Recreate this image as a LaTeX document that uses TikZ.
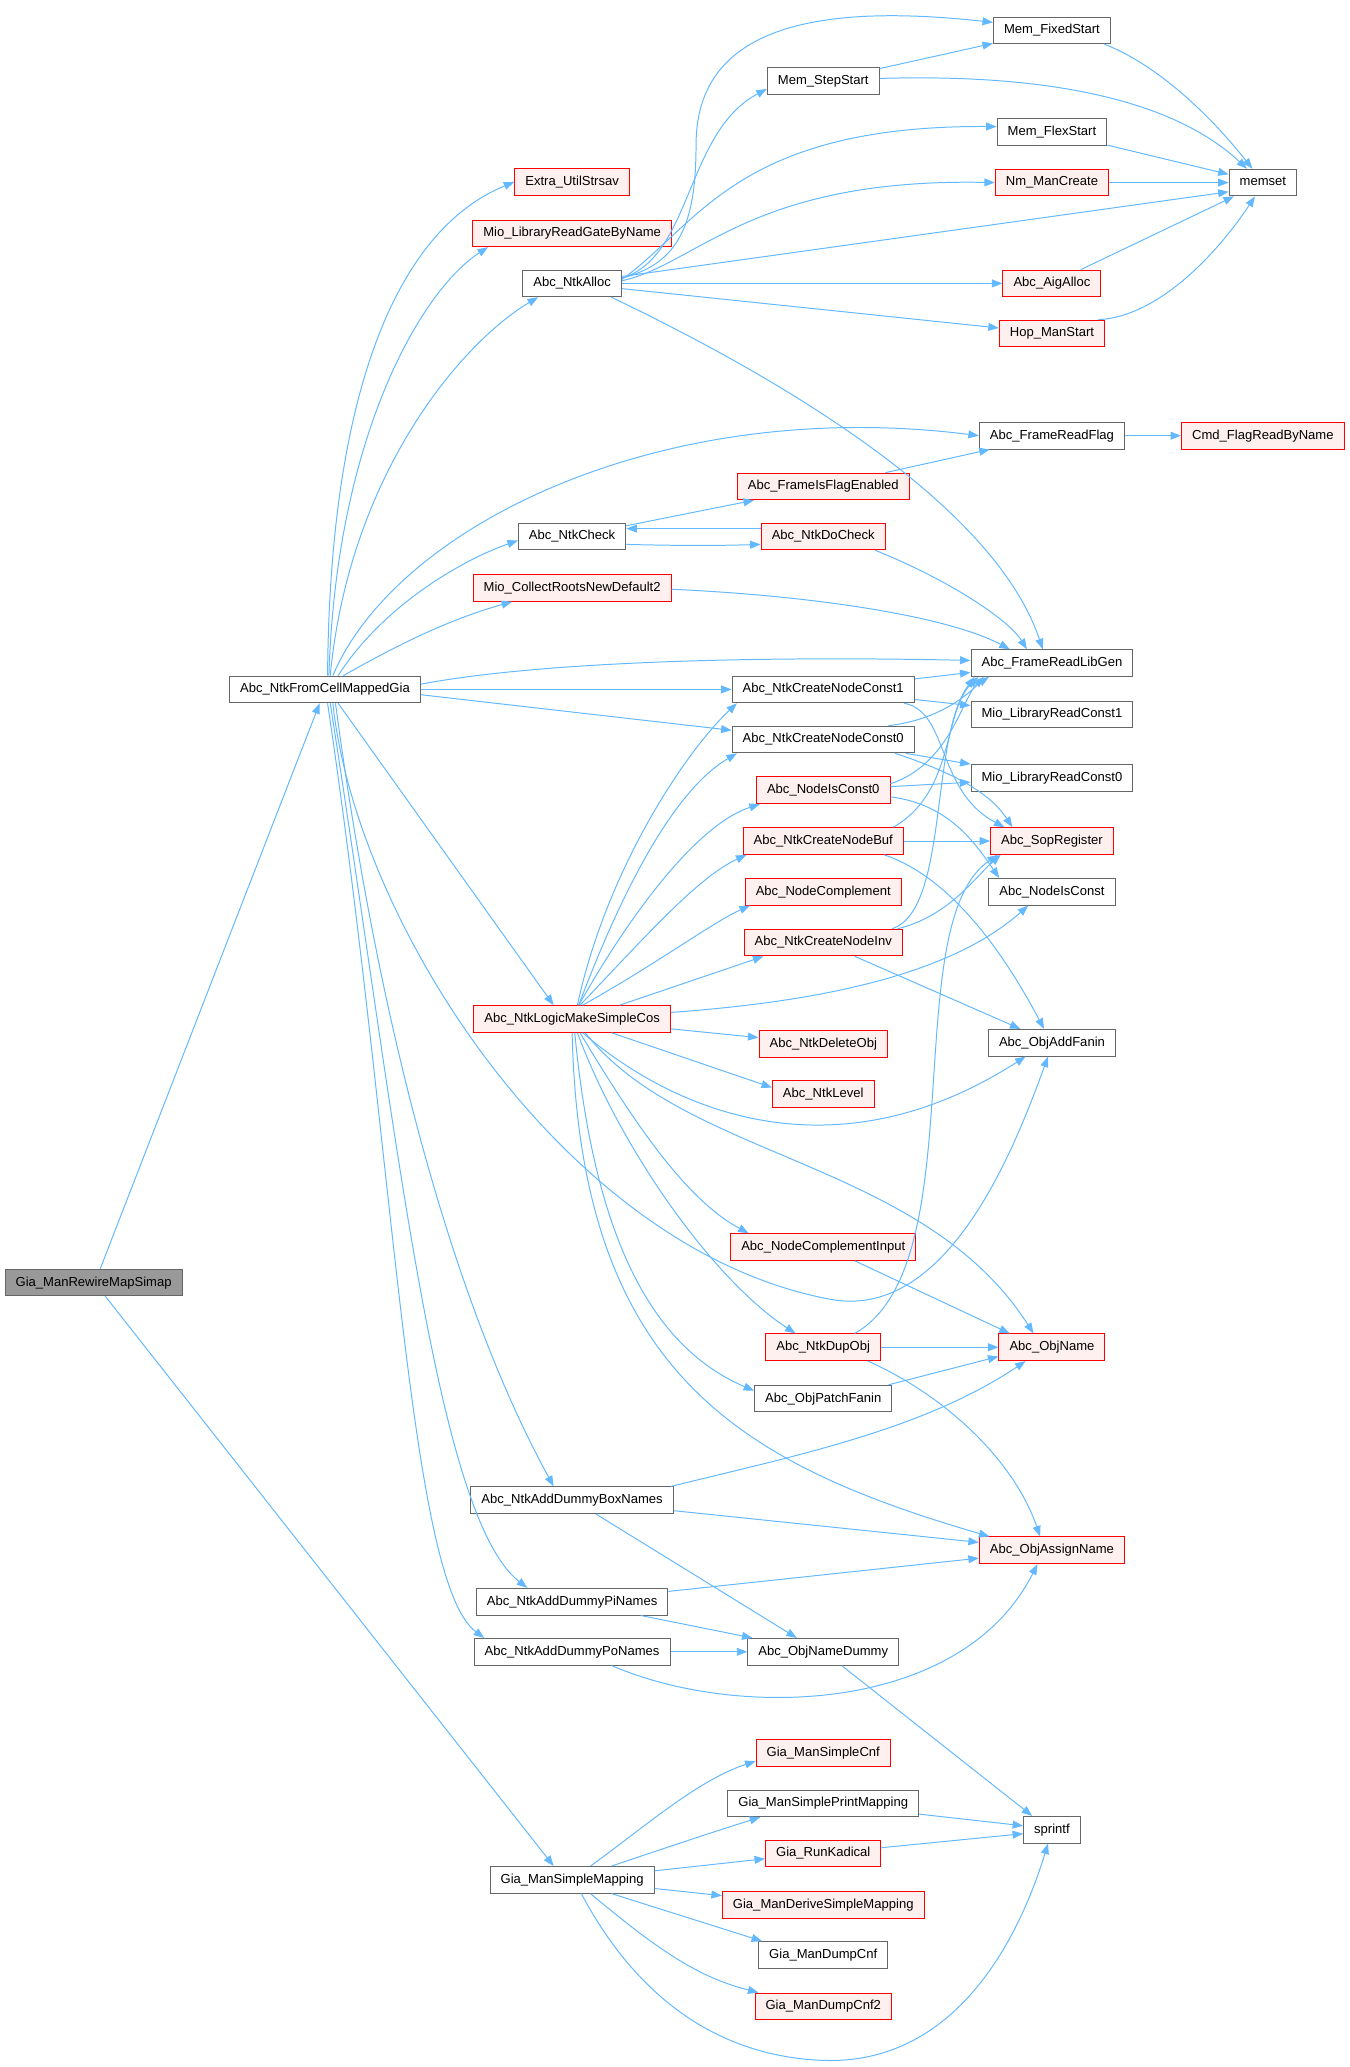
\documentclass[tikz,border=0pt]{standalone}
\usepackage{fontspec}
\setmainfont{Liberation Sans}
\usepackage{xcolor}
\usetikzlibrary{arrows.meta,positioning}

\definecolor{edgeblue}{HTML}{63B8FF}
\definecolor{boxgray}{HTML}{666666}
\definecolor{boxred}{HTML}{FF0000}
\definecolor{redfill}{HTML}{FFF0F0}
\definecolor{rootfill}{HTML}{999999}

\tikzset{
  fn/.style={draw=boxgray, fill=white, line width=0.75pt, inner xsep=8pt, inner ysep=0pt,
    minimum height=20.2pt, text height=7.3pt, text depth=2.2pt, font=\fontsize{9.9}{12}\selectfont},
  fnred/.style={fn, draw=boxred, fill=redfill},
  fnroot/.style={fn, fill=rootfill},
  call/.style={draw=edgeblue, line width=0.75pt, -{Triangle[length=8pt,width=6pt]}}
}

\begin{document}
\begin{tikzpicture}[x=1pt, y=-1pt]
    \useasboundingbox (0,0) rectangle (1024,1568);

    % Callers
    \node [fnroot] (rew) at (71,973) {Gia\_ManRewireMapSimap};
    \node [fn] (fcm) at (246.5,523) {Abc\_NtkFromCellMappedGia};

    % Third column
    \foreach \y/\nm/\sty/\lab in {138/strsav/fnred/Extra\_UtilStrsav, 177/gate/fnred/Mio\_LibraryReadGateByName,
        215/alloc/fn/Abc\_NtkAlloc, 407/chk/fn/Abc\_NtkCheck, 446/roots/fnred/Mio\_CollectRootsNewDefault2,
        773/lmsc/fnred/Abc\_NtkLogicMakeSimpleCos, 1138/boxn/fn/Abc\_NtkAddDummyBoxNames,
        1215/pin/fn/Abc\_NtkAddDummyPiNames, 1253/pon/fn/Abc\_NtkAddDummyPoNames, 1426/simap/fn/Gia\_ManSimpleMapping} {
        \node [\sty] (\nm) at (434,\y) {\lab};
    }

    % Fourth column
    \foreach \y/\nm/\sty/\lab in {61.5/step/fn/Mem\_StepStart, 369/isflag/fnred/Abc\_FrameIsFlagEnabled,
        407/docheck/fnred/Abc\_NtkDoCheck, 523/c1/fn/Abc\_NtkCreateNodeConst1, 561/c0/fn/Abc\_NtkCreateNodeConst0,
        599.5/isc0/fnred/Abc\_NodeIsConst0, 638/buf/fnred/Abc\_NtkCreateNodeBuf, 676.5/compl/fnred/Abc\_NodeComplement,
        715/inv/fnred/Abc\_NtkCreateNodeInv, 792/del/fnred/Abc\_NtkDeleteObj, 830/lev/fnred/Abc\_NtkLevel,
        946/cinp/fnred/Abc\_NodeComplementInput, 1022/dup/fnred/Abc\_NtkDupObj, 1061/patch/fn/Abc\_ObjPatchFanin,
        1253/dummy/fn/Abc\_ObjNameDummy, 1330/scnf/fnred/Gia\_ManSimpleCnf, 1368/spm/fn/Gia\_ManSimplePrintMapping,
        1406/kad/fnred/Gia\_RunKadical, 1445/derive/fnred/Gia\_ManDeriveSimpleMapping, 1483/dump/fn/Gia\_ManDumpCnf,
        1522/dump2/fnred/Gia\_ManDumpCnf2} {
        \node [\sty] (\nm) at (624.5,\y) {\lab};
    }

    % Fifth column
    \foreach \y/\nm/\sty/\lab in {23/fixed/fn/Mem\_FixedStart, 100/flex/fn/Mem\_FlexStart, 138.5/nm/fnred/Nm\_ManCreate,
        215/aig/fnred/Abc\_AigAlloc, 253/hop/fnred/Hop\_ManStart, 330.5/rflag/fn/Abc\_FrameReadFlag,
        503/libgen/fn/Abc\_FrameReadLibGen, 542/rc1/fn/Mio\_LibraryReadConst1, 590/rc0/fn/Mio\_LibraryReadConst0,
        638/sop/fnred/Abc\_SopRegister, 676.5/isc/fn/Abc\_NodeIsConst, 791/fanin/fn/Abc\_ObjAddFanin,
        1022/oname/fnred/Abc\_ObjName, 1176/assign/fnred/Abc\_ObjAssignName, 1388/sprintf/fn/sprintf} {
        \node [\sty] (\nm) at (798,\y) {\lab};
    }

    % Last column
    \node [fn] (memset) at (958,138.5) {memset};
    \node [fnred] (cmd) at (958,330.5) {Cmd\_FlagReadByName};

    % Root calls
    \draw [call] ([xshift=5pt]rew.north) -- ([xshift=-4pt]fcm.south);
    \draw [call] ([xshift=9pt]rew.south) -- ([xshift=-14pt]simap.north);

    % Abc_NtkFromCellMappedGia
    \draw [call] ([xshift=2pt]fcm.north) .. controls (250,300) and (300,175) .. (strsav.west);
    \draw [call] ([xshift=3pt]fcm.north) .. controls (255,330) and (320,220) .. ([xshift=12pt]gate.south west);
    \draw [call] ([xshift=4pt]fcm.north) .. controls (265,360) and (350,260) .. ([xshift=12pt]alloc.south west);
    \draw [call] ([xshift=6pt]fcm.north) .. controls (300,400) and (500,300) .. (rflag.west);
    \draw [call] ([xshift=10pt]fcm.north) .. controls (290,460) and (350,425) .. ([yshift=-3pt]chk.west);
    \draw [call] ([xshift=14pt]fcm.north) .. controls (300,490) and (340,470) .. ([xshift=30pt]roots.south west);
    \draw [call] ([yshift=4pt]fcm.east) .. controls (420,500) and (600,498) .. ([yshift=2pt]libgen.west);
    \draw [call] (fcm) -- (c1);
    \draw [call] ([yshift=-4pt]fcm.east) -- ([yshift=7pt]c0.west);
    \draw [call] ([xshift=10pt]fcm.south) -- ([xshift=-14pt]lmsc.north);
    \draw [call] ([xshift=6pt]fcm.south) .. controls (270,700) and (430,950) .. (632,986)
        .. controls (720,1000) and (770,870) .. ([xshift=-3pt]fanin.south);
    \draw [call] ([xshift=8pt]fcm.south) .. controls (290,800) and (350,1000) .. ([xshift=-14pt]boxn.north);
    \draw [call] ([xshift=4pt]fcm.south) .. controls (300,850) and (330,1150) .. ([xshift=-34pt]pin.north);
    \draw [call] ([xshift=2pt]fcm.south) .. controls (300,880) and (310,1200) .. ([xshift=8pt]pon.north west);

    % Abc_NtkAlloc
    \draw [call] ([yshift=4pt]alloc.east) .. controls (515,200) and (528,170) .. (528,110)
        .. controls (528,30) and (600,0) .. ([yshift=6pt]fixed.west);
    \draw [call] ([yshift=4pt]alloc.east) .. controls (525,195) and (520,100) .. ([yshift=-6pt]step.west);
    \draw [call] ([yshift=3pt]alloc.east) .. controls (530,170) and (560,95) .. ([yshift=4pt]flex.west);
    \draw [call] ([yshift=2pt]alloc.east) .. controls (530,200) and (570,135) .. (nm.west);
    \draw [call] (alloc) -- ([yshift=-7pt]memset.west);
    \draw [call] (alloc) -- (aig);
    \draw [call] (alloc) -- (hop);
    \draw [call] ([xshift=-8pt]alloc.south east) .. controls (640,310) and (760,400) .. ([xshift=-7pt]libgen.north);

    % memory managers
    \draw [call] (step) -- (fixed);
    \draw [call] ([yshift=2pt]step.east) .. controls (820,55) and (900,85) .. ([xshift=-12pt]memset.north);
    \draw [call] ([xshift=-5pt]fixed.south east) .. controls (880,50) and (920,90) .. ([xshift=-8pt]memset.north);
    \draw [call] (flex) -- (memset);
    \draw [call] (nm) -- (memset);
    \draw [call] (aig) -- (memset);
    \draw [call] ([xshift=-5pt]hop.north east) .. controls (880,240) and (925,190) .. ([xshift=-6pt]memset.south);

    % flags and checks
    \draw [call] (rflag) -- (cmd);
    \draw [call] (isflag) -- (rflag);
    \draw [call] (chk) -- (isflag);
    \draw [call] ([yshift=-6pt]chk.east) .. controls (520,414) and (540,414) .. ([yshift=-6pt]docheck.west);
    \draw [call] ([yshift=6pt]docheck.west) .. controls (540,401) and (520,401) .. ([yshift=6pt]chk.east);
    \draw [call] ([xshift=-8pt]docheck.south east) .. controls (720,440) and (765,470) .. ([xshift=-19pt]libgen.north);
    \draw [call] ([yshift=-1pt]roots.east) .. controls (620,452) and (720,468) .. ([xshift=-32pt]libgen.north);

    % node constructors
    \draw [call] (c1) -- (libgen);
    \draw [call] (c1) -- (rc1);
    \draw [call] ([xshift=-8pt]c1.south east) .. controls (720,540) and (710,600) .. ([xshift=-36pt]sop.north);
    \draw [call] ([xshift=-20pt]c0.north east) .. controls (720,545) and (740,520) .. ([xshift=14pt]libgen.south west);
    \draw [call] (c0) -- (rc0);
    \draw [call] ([xshift=-15pt]c0.south east) .. controls (720,585) and (750,600) .. ([xshift=-30pt]sop.north);
    \draw [call] ([yshift=5pt]isc0.east) .. controls (720,580) and (730,530) .. ([xshift=10pt]libgen.south west);
    \draw [call] (isc0) -- (rc0);
    \draw [call] ([yshift=-5pt]isc0.east) .. controls (720,610) and (740,640) .. ([xshift=-40pt]isc.north);
    \draw [call] ([xshift=-8pt]buf.north east) .. controls (725,600) and (715,540) .. ([xshift=6pt]libgen.south west);
    \draw [call] (buf) -- (sop);
    \draw [call] ([xshift=-15pt]buf.south east) .. controls (720,665) and (760,720) .. ([xshift=-6pt]fanin.north);
    \draw [call] ([xshift=-8pt]inv.north east) .. controls (720,690) and (705,560) .. ([xshift=3pt]libgen.south west);
    \draw [call] ([xshift=-4pt]inv.north east) .. controls (720,695) and (740,665) .. ([xshift=8pt]sop.south west);
    \draw [call] (inv) -- (fanin);

    % Abc_NtkLogicMakeSimpleCos
    \draw [call] ([xshift=4pt]lmsc.north) .. controls (460,660) and (520,570) .. ([xshift=4pt]c1.south west);
    \draw [call] ([xshift=5pt]lmsc.north) .. controls (470,680) and (510,600) .. ([xshift=4pt]c0.south west);
    \draw [call] ([xshift=5pt]lmsc.north) .. controls (480,690) and (530,625) .. ([xshift=3pt]isc0.south west);
    \draw [call] ([xshift=6pt]lmsc.north) .. controls (490,710) and (530,665) .. ([xshift=3pt]buf.south west);
    \draw [call] ([xshift=8pt]lmsc.north) .. controls (500,730) and (540,700) .. ([xshift=4pt]compl.south west);
    \draw [call] ([xshift=36pt]lmsc.north) -- ([xshift=15pt]inv.south west);
    \draw [call] ([yshift=5pt]lmsc.east) .. controls (620,760) and (720,740) .. ([xshift=-18pt]isc.south);
    \draw [call] (lmsc) -- (del);
    \draw [call] ([xshift=30pt]lmsc.south) -- ([yshift=5pt]lev.west);
    \draw [call] ([xshift=8pt]lmsc.south) .. controls (520,850) and (640,890) .. ([xshift=-20pt]fanin.south);
    \draw [call] ([xshift=10pt]lmsc.south) .. controls (520,880) and (700,880) .. ([xshift=-14pt]oname.north);
    \draw [call] ([xshift=6pt]lmsc.south) .. controls (480,850) and (520,910) .. ([xshift=14pt]cinp.north west);
    \draw [call] ([xshift=4pt]lmsc.south) .. controls (470,870) and (540,970) .. ([xshift=-21pt]dup.north);
    \draw [call] ([xshift=2pt]lmsc.south) .. controls (450,930) and (490,1020) .. ([yshift=6pt]patch.west);
    \draw [call] (lmsc.south) .. controls (440,1040) and (560,1110) .. ([xshift=8pt]assign.north west);

    % names
    \draw [call] ([xshift=24pt]cinp.south) -- ([xshift=-32pt]oname.north);
    \draw [call] ([xshift=-20pt]dup.north east) .. controls (740,960) and (680,700) .. ([xshift=6pt]sop.south west);
    \draw [call] (dup) -- (oname);
    \draw [call] ([xshift=-10pt]dup.south east) .. controls (720,1060) and (770,1110) .. ([xshift=-9pt]assign.north);
    \draw [call] ([xshift=-3pt]patch.north east) -- ([yshift=-7pt]oname.west);
    \draw [call] ([xshift=-2pt]boxn.north east) .. controls (600,1105) and (700,1085) .. ([xshift=-20pt]oname.south);
    \draw [call] (boxn) -- ([yshift=6pt]assign.west);
    \draw [call] ([xshift=18pt]boxn.south) -- ([xshift=-20pt]dummy.north);
    \draw [call] (pin) -- ([yshift=-6pt]assign.west);
    \draw [call] ([xshift=52pt]pin.south) -- ([xshift=4pt]dummy.north west);
    \draw [call] (pon) -- (dummy);
    \draw [call] ([xshift=30pt]pon.south) .. controls (560,1305) and (730,1300) .. ([xshift=-11pt]assign.south);
    \draw [call] ([xshift=14pt]dummy.south) -- ([xshift=-15pt]sprintf.north);

    % Gia_ManSimpleMapping
    \draw [call] ([xshift=14pt]simap.north) .. controls (490,1385) and (530,1350) .. ([yshift=-6pt]scnf.west);
    \draw [call] ([xshift=30pt]simap.north) .. controls (510,1400) and (540,1390) .. ([xshift=25pt]spm.south west);
    \draw [call] (simap) -- ([yshift=-4pt]kad.west);
    \draw [call] (simap) -- ([yshift=7pt]derive.west);
    \draw [call] ([xshift=30pt]simap.south) -- ([xshift=3pt]dump.north west);
    \draw [call] ([xshift=14pt]simap.south) .. controls (500,1480) and (530,1500) .. ([xshift=3pt]dump2.north west);
    \draw [call] ([xshift=7pt]simap.south) .. controls (480,1510) and (540,1560) .. (625,1563)
        .. controls (720,1566) and (770,1480) .. ([xshift=-3pt]sprintf.south);
    \draw [call] (spm) -- ([yshift=3pt]sprintf.west);
    \draw [call] (kad) -- ([yshift=-3pt]sprintf.west);
\end{tikzpicture}
\end{document}
